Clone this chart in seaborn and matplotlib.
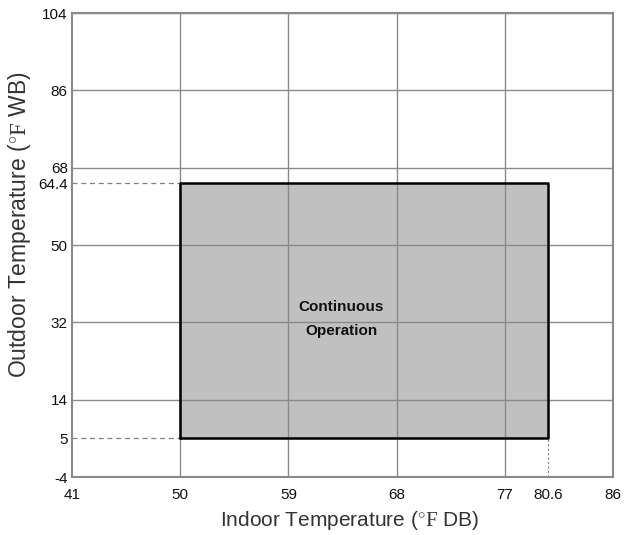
import matplotlib
matplotlib.use("Agg")
import matplotlib.pyplot as plt
from matplotlib.patches import Rectangle
import seaborn as sns
import pandas as pd

# Axis ticks (°F)
x_ticks = [41, 50, 59, 68, 77, 80.6, 86]
y_ticks = [-4, 5, 14, 32, 50, 64.4, 68, 86, 104]
x_grid = [50, 59, 68, 77, 86]
y_grid = [14, 32, 50, 68, 86, 104]

# Continuous operation range
indoor_range = [50, 80.6]
outdoor_range = [5, 64.4]
region_label = "Continuous\nOperation"

sns.set_theme(style="white")
plt.rcParams["font.family"] = ["Liberation Sans", "DejaVu Sans"]
plt.rcParams["mathtext.fontset"] = "custom"
plt.rcParams["mathtext.rm"] = "Liberation Serif"

fig = plt.figure(figsize=(6.36, 5.35), dpi=100)
ax = fig.add_axes([0.1132, 0.1084, 0.8506, 0.8673])

x_min, x_max = x_ticks[0], x_ticks[-1]
y_min, y_max = y_ticks[0], y_ticks[-1]

# grid lines (drawn above the shaded area)
for gx in x_grid:
    ax.axvline(gx, color="#8a8a8a", lw=1.0, zorder=2)
for gy in y_grid:
    ax.axhline(gy, color="#8a8a8a", lw=1.0, zorder=2)

# shaded operating region
ax.add_patch(Rectangle((indoor_range[0], outdoor_range[0]),
                       indoor_range[1] - indoor_range[0],
                       outdoor_range[1] - outdoor_range[0],
                       facecolor="#c0c0c0", edgecolor="none", zorder=1))
outline = pd.DataFrame({
    "x": [indoor_range[0], indoor_range[1], indoor_range[1], indoor_range[0], indoor_range[0]],
    "y": [outdoor_range[0], outdoor_range[0], outdoor_range[1], outdoor_range[1], outdoor_range[0]],
})
sns.lineplot(data=outline, x="x", y="y", sort=False, estimator=None,
             color="black", lw=1.8, ax=ax, zorder=3)

# guide lines to the boundary values
for yv in outdoor_range:
    guide = pd.DataFrame({"x": [x_min, indoor_range[0]], "y": [yv, yv]})
    sns.lineplot(data=guide, x="x", y="y", color="#808080", lw=0.9,
                 linestyle=(0, (4, 3)), ax=ax, zorder=2)
vguide = pd.DataFrame({"x": [indoor_range[1], indoor_range[1]], "y": [y_min, outdoor_range[0]]})
sns.lineplot(data=vguide, x="x", y="y", sort=False, estimator=None,
             color="#808080", lw=0.8, linestyle=(0, (2, 2)), ax=ax, zorder=2)

ax.text(63.4, 32.8, region_label, ha="center", va="center",
        fontsize=11, fontweight="bold", color="#111111", linespacing=1.85, zorder=4)

ax.set_xlim(x_min, x_max)
ax.set_ylim(y_min, y_max)
ax.set_xticks(x_ticks)
ax.set_xticklabels([f"{v:g}" for v in x_ticks])
ax.set_yticks(y_ticks)
ax.set_yticklabels([f"{v:g}" for v in y_ticks])
ax.tick_params(axis="x", length=0, pad=8, labelsize=11, colors="#111111")
ax.tick_params(axis="y", length=0, pad=3, labelsize=11, colors="#111111")

for s in ax.spines.values():
    s.set_color("#8a8a8a")
    s.set_linewidth(1.5)

ax.set_xlabel(r"Indoor Temperature ($\mathrm{^{\circ}F}$ DB)", fontsize=15, color="#333333")
ax.set_ylabel(r"Outdoor Temperature ($\mathrm{^{\circ}F}$ WB)", fontsize=16.5, color="#333333")
ax.xaxis.set_label_coords(0.514, -0.068)
ax.yaxis.set_label_coords(-0.072, 0.543)

fig.savefig("out.png", dpi=100)
